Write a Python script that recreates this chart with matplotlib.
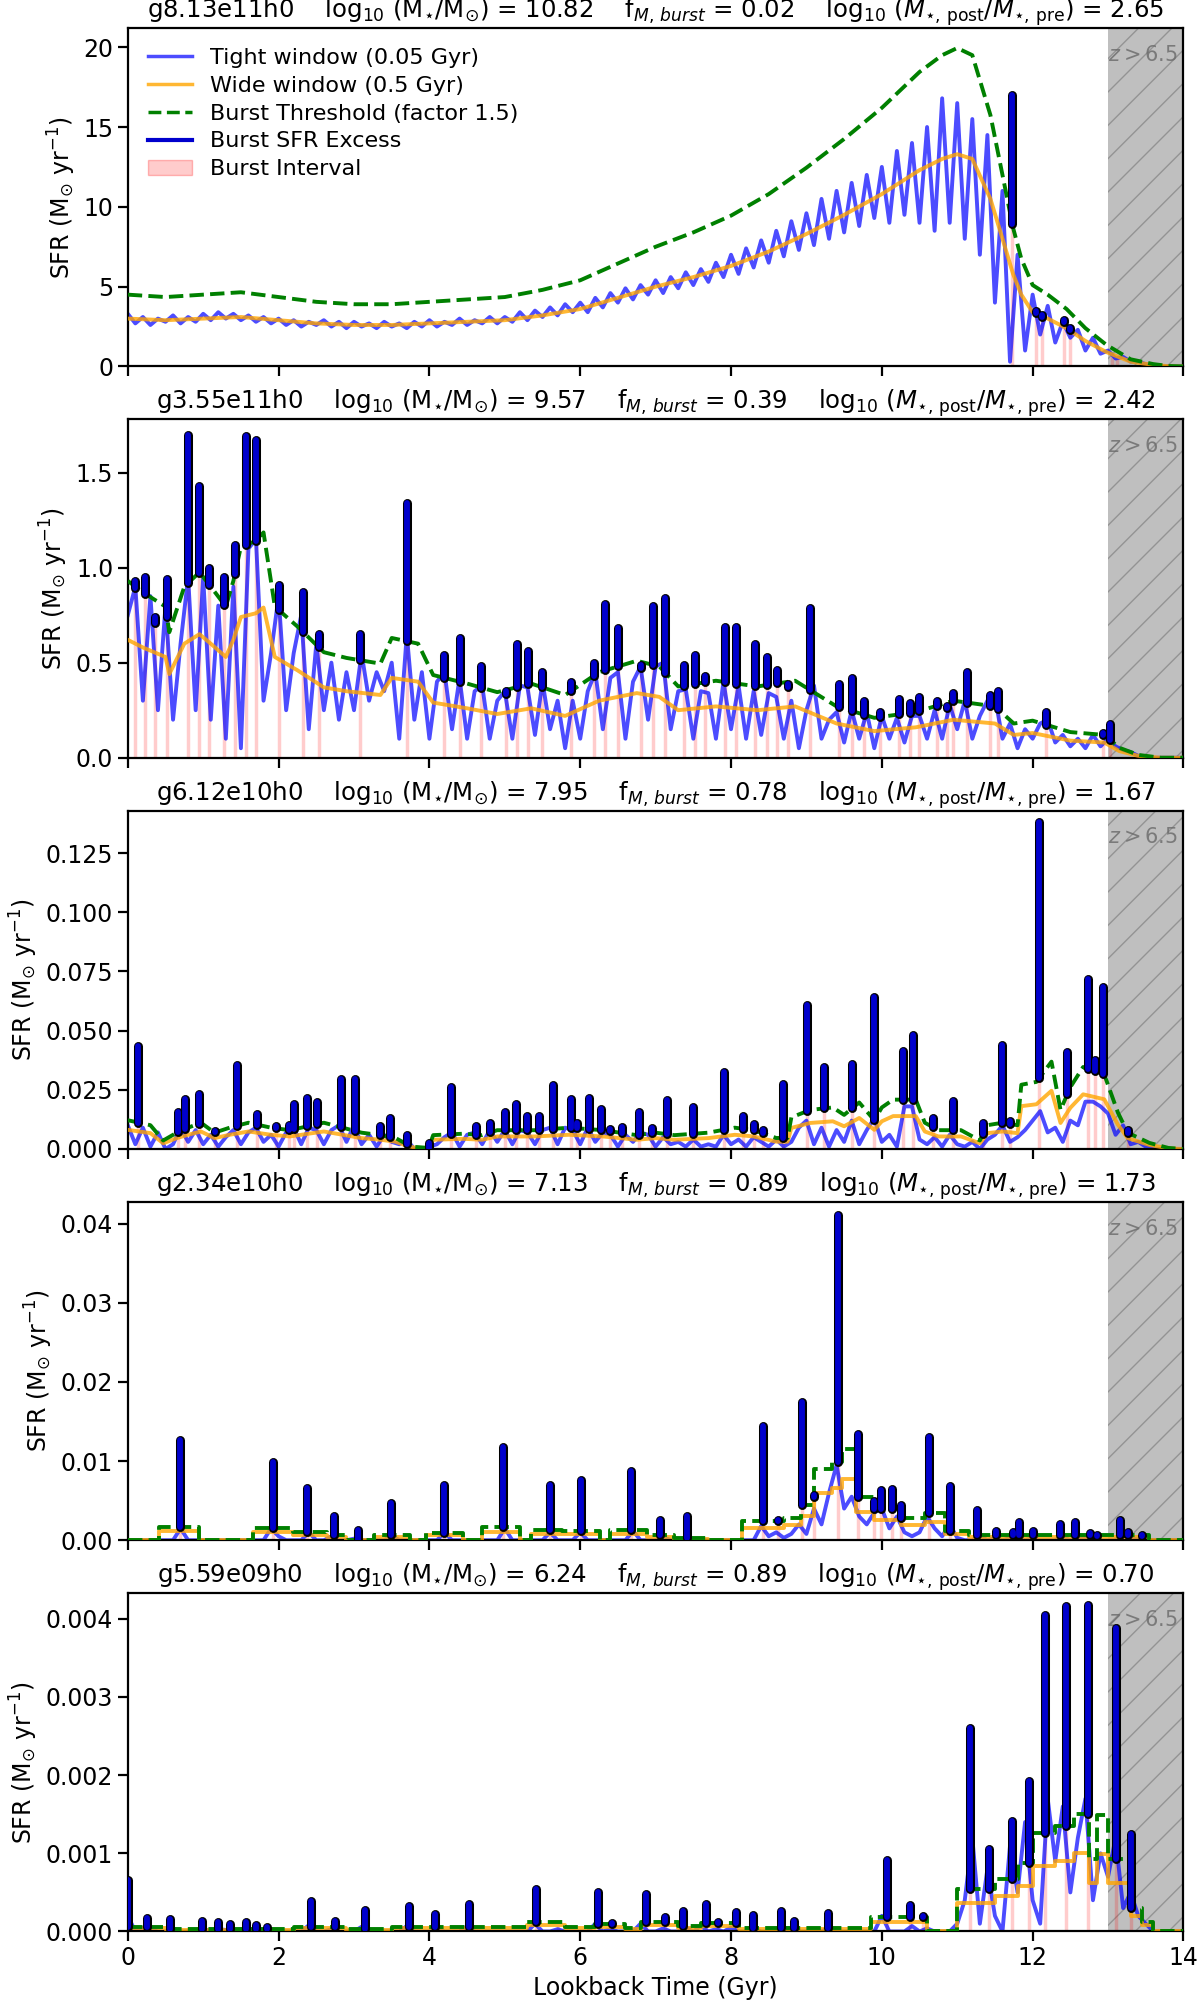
import numpy as np
import matplotlib
matplotlib.use('Agg')
import matplotlib.pyplot as plt
import matplotlib.patheffects as pe
from matplotlib.lines import Line2D
from matplotlib.patches import Patch

# ---------------------------------------------------------------- data
galaxies = ['g8.13e11h0', 'g3.55e11h0', 'g6.12e10h0', 'g2.34e10h0', 'g5.59e09h0']
log_mstar = [10.82, 9.57, 7.95, 7.13, 6.24]
f_burst = [0.02, 0.39, 0.78, 0.89, 0.89]
log_post_pre = [2.65, 2.42, 1.67, 1.73, 0.70]
ylims = [21.2, 1.78, 0.143, 0.04275, 0.00433]
ystep = [5, 0.5, 0.025, 0.01, 0.001]
threshold_factor = 1.5
z_cut = 13.0  # lookback time of z = 6.5

# time grid of the tight (0.05 Gyr) window curves
t_tight = np.round(np.arange(0, 14.01, 0.1), 2)

# --- panel 1
t1_wide = [0, 0.5, 1.0, 1.5, 2.0, 2.5, 3.0, 3.5, 4.0, 4.5, 5.0, 5.5, 6.0, 6.5, 7.0, 7.5, 8.0, 8.5,
           9.0, 9.5, 10.0, 10.5, 10.8, 11.0, 11.2, 11.44, 11.6, 11.74, 11.85, 12.0, 12.2, 12.45,
           12.7, 12.98, 13.3, 13.6, 13.8, 14.0]
sfr1_wide = [3.0, 2.9, 3.0, 3.1, 2.9, 2.7, 2.6, 2.6, 2.7, 2.8, 2.9, 3.2, 3.6, 4.3, 5.0, 5.6, 6.3, 7.2,
             8.3, 9.5, 10.8, 12.3, 13.0, 13.3, 13.0, 10.5, 8.0, 5.8, 4.5, 3.4, 3.0, 2.4,
             1.6, 0.9, 0.3, 0.1, 0.02, 0.0]
sfr1_tight = [3.3, 2.7, 3.1, 2.6, 3.0, 2.8, 3.2, 2.7, 3.1, 2.8,
              3.3, 2.9, 3.4, 3.0, 3.3, 2.9, 3.2, 2.8, 3.1, 2.7,
              3.0, 2.6, 2.9, 2.5, 2.8, 2.6, 2.9, 2.5, 2.8, 2.4,
              2.8, 2.5, 2.7, 2.4, 2.8, 2.5, 2.7, 2.4, 2.8, 2.5,
              2.9, 2.5, 2.8, 2.6, 3.0, 2.6, 2.9, 2.7, 3.1, 2.7,
              3.1, 2.8, 3.4, 2.9, 3.5, 3.1, 3.7, 3.2, 3.9, 3.4,
              4.0, 3.4, 4.3, 3.7, 4.6, 4.0, 4.9, 4.2, 5.1, 4.5,
              5.4, 4.6, 5.6, 4.9, 5.9, 5.1, 6.1, 5.3, 6.5, 5.6,
              7.0, 5.8, 7.4, 6.2, 7.9, 6.5, 8.5, 6.9, 9.1, 7.3,
              9.6, 7.6, 10.5, 8.0, 11.0, 8.4, 11.5, 8.8, 12.0, 9.3,
              12.5, 9.0, 13.5, 9.5, 14.0, 9.0, 15.0, 8.5, 16.8, 9.0,
              16.5, 8.0, 15.5, 7.0, 14.5, 4.0, 11.0, 0.3, 7.0, 1.0,
              4.5, 2.0, 3.8, 1.5, 2.8, 1.8, 2.3, 1.0, 1.8, 0.8,
              1.0, 0.5, 0.6, 0.3, 0.3, 0.15, 0.08, 0.03, 0.01, 0.0,
              0.0]
burst1_t = [11.73, 12.05, 12.12, 12.42, 12.5, 13.05, 13.12, 13.45]
burst1_peak = [17.0, 3.5, 3.2, 2.9, 2.4, 0.6, 0.5, 0.3]

# --- panel 2
t2_wide = [0, 0.2, 0.5, 0.55, 0.75, 0.95, 1.1, 1.3, 1.4, 1.5, 1.7, 1.8, 1.95, 2.25, 2.6, 2.9, 3.35,
           3.5, 3.85, 4.05, 4.5, 4.9, 5.35, 5.8, 6.25, 6.75, 7.05, 7.3, 7.8, 8.35, 8.85, 9.4, 9.9,
           10.45, 10.95, 11.5, 11.75, 12.0, 12.5, 12.95, 13.15, 13.4, 13.7, 14.0]
sfr2_wide = [0.62, 0.58, 0.53, 0.44, 0.60, 0.65, 0.60, 0.53, 0.62, 0.74, 0.76, 0.79, 0.53, 0.46,
             0.37, 0.35, 0.33, 0.42, 0.40, 0.29, 0.26, 0.23, 0.26, 0.22, 0.30, 0.34, 0.32, 0.25,
             0.27, 0.25, 0.27, 0.18, 0.14, 0.16, 0.20, 0.18, 0.12, 0.13, 0.09, 0.08, 0.035, 0.01,
             0.0, 0.0]
sfr2_tight = [0.75, 0.90, 0.30, 0.85, 0.25, 0.80, 0.20, 0.60, 0.95, 0.25,
              0.95, 0.20, 0.80, 0.10, 0.90, 0.05, 1.10, 1.15, 0.30, 0.55,
              0.85, 0.25, 0.55, 0.75, 0.15, 0.60, 0.25, 0.50, 0.20, 0.45,
              0.25, 0.55, 0.30, 0.45, 0.35, 0.50, 0.10, 0.65, 0.20, 0.45,
              0.10, 0.40, 0.45, 0.15, 0.42, 0.10, 0.35, 0.38, 0.10, 0.30,
              0.35, 0.10, 0.38, 0.37, 0.12, 0.40, 0.15, 0.30, 0.05, 0.30,
              0.10, 0.35, 0.45, 0.15, 0.42, 0.45, 0.10, 0.40, 0.48, 0.20,
              0.48, 0.50, 0.15, 0.35, 0.36, 0.10, 0.35, 0.34, 0.10, 0.40,
              0.15, 0.38, 0.10, 0.35, 0.12, 0.34, 0.32, 0.10, 0.30, 0.05,
              0.25, 0.38, 0.10, 0.20, 0.24, 0.08, 0.25, 0.10, 0.24, 0.05,
              0.22, 0.10, 0.21, 0.08, 0.22, 0.22, 0.10, 0.25, 0.10, 0.28,
              0.15, 0.30, 0.10, 0.22, 0.30, 0.32, 0.10, 0.18, 0.05, 0.15,
              0.10, 0.18, 0.20, 0.08, 0.12, 0.06, 0.10, 0.05, 0.12, 0.06,
              0.10, 0.06, 0.04, 0.03, 0.01, 0.005, 0.0, 0.0, 0.0, 0.0,
              0.0]
burst2_t = [0.1, 0.23, 0.36, 0.52, 0.8, 0.94, 1.08, 1.28, 1.42, 1.57, 1.7, 2.0, 2.32, 2.53, 3.08,
            3.7, 4.2, 4.4, 4.69, 5.02, 5.16, 5.31, 5.49, 5.88, 6.18, 6.33, 6.5, 6.8, 6.97, 7.13,
            7.37, 7.52, 7.66, 7.92, 8.07, 8.32, 8.48, 8.61, 8.76, 9.05, 9.43, 9.61, 9.76, 9.98,
            10.23, 10.38, 10.49, 10.73, 10.86, 10.95, 11.13, 11.43, 11.54, 12.18, 12.93, 13.03]
burst2_peak = [0.93, 0.95, 0.74, 0.94, 1.70, 1.43, 1.0, 0.95, 1.12, 1.69, 1.67, 0.91, 0.87, 0.65,
               0.65, 1.34, 0.54, 0.63, 0.48, 0.35, 0.60, 0.56, 0.45, 0.40, 0.50, 0.81, 0.68, 0.49,
               0.80, 0.84, 0.49, 0.54, 0.43, 0.69, 0.69, 0.60, 0.53, 0.46, 0.39, 0.79, 0.39, 0.42,
               0.30, 0.24, 0.31, 0.29, 0.32, 0.30, 0.27, 0.34, 0.45, 0.33, 0.35, 0.24, 0.13, 0.18]

# --- panel 3
t3_wide = [0, 0.3, 0.47, 0.65, 0.8, 0.97, 1.15, 1.35, 1.6, 1.9, 2.15, 2.45, 2.6, 2.85, 3.1, 3.35,
           3.55, 3.67, 3.8, 3.99, 4.05, 4.45, 4.7, 4.9, 5.4, 5.85, 6.3, 6.75, 7.0, 7.25, 7.7, 8.05,
           8.3, 8.6, 8.75, 8.8, 9.05, 9.35, 9.5, 9.7, 9.9, 10.0, 10.15, 10.45, 10.57, 10.75, 11.05,
           11.3, 11.4, 11.6, 11.8, 11.85, 12.05, 12.25, 12.37, 12.5, 12.67, 12.95, 13.13, 13.26,
           13.55, 13.8, 14.0]
sfr3_wide = [0.0081, 0.0067, 0.0024, 0.0046, 0.006, 0.0074, 0.0046, 0.006, 0.0074, 0.006, 0.0053,
             0.0067, 0.0074, 0.006, 0.0046, 0.0039, 0.0031, 0.0017, 0.0006, 0.0003, 0.0039, 0.0043,
             0.0039, 0.0053, 0.0053, 0.006, 0.0053, 0.0039, 0.0046, 0.0039, 0.0046, 0.006, 0.0053,
             0.0031, 0.0031, 0.0089, 0.011, 0.0117, 0.0096, 0.0131, 0.0081, 0.0117, 0.0139, 0.0139,
             0.0074, 0.0053, 0.0053, 0.0024, 0.0067, 0.0074, 0.0067, 0.0181, 0.0189, 0.0246, 0.011,
             0.0174, 0.0231, 0.021, 0.0103, 0.0046, 0.0017, 0.0003, 0.0]
sfr3_tight = [0.010, 0.002, 0.009, 0.001, 0.007, 0.000, 0.002, 0.009, 0.003, 0.008,
              0.002, 0.006, 0.001, 0.005, 0.008, 0.002, 0.007, 0.009, 0.003, 0.006,
              0.001, 0.007, 0.009, 0.002, 0.009, 0.008, 0.002, 0.008, 0.010, 0.003,
              0.010, 0.002, 0.006, 0.001, 0.006, 0.003, 0.002, 0.004, 0.000, 0.000,
              0.001, 0.002, 0.005, 0.007, 0.001, 0.006, 0.007, 0.002, 0.008, 0.003,
              0.008, 0.002, 0.008, 0.007, 0.002, 0.008, 0.009, 0.002, 0.009, 0.008,
              0.002, 0.009, 0.003, 0.007, 0.006, 0.001, 0.006, 0.003, 0.007, 0.006,
              0.001, 0.005, 0.002, 0.003, 0.001, 0.004, 0.001, 0.002, 0.001, 0.006,
              0.002, 0.004, 0.001, 0.005, 0.003, 0.001, 0.004, 0.001, 0.003, 0.009,
              0.012, 0.002, 0.009, 0.001, 0.008, 0.003, 0.012, 0.002, 0.008, 0.013,
              0.003, 0.006, 0.001, 0.018, 0.018, 0.004, 0.002, 0.005, 0.001, 0.006,
              0.002, 0.001, 0.003, 0.000, 0.004, 0.006, 0.010, 0.003, 0.005, 0.008,
              0.012, 0.016, 0.007, 0.009, 0.003, 0.012, 0.010, 0.020, 0.020, 0.018,
              0.015, 0.006, 0.010, 0.002, 0.003, 0.001, 0.000, 0.000, 0.000, 0.000,
              0.000]
burst3_t = [0.14, 0.67, 0.76, 0.94, 1.16, 1.45, 1.71, 1.96, 2.14, 2.2, 2.38, 2.51, 2.83, 3.01, 3.35,
            3.48, 3.7, 3.99, 4.28, 4.62, 4.81, 5.0, 5.15, 5.3, 5.45, 5.64, 5.88, 5.96, 6.11, 6.28,
            6.4, 6.56, 6.78, 6.95, 7.15, 7.49, 7.91, 8.16, 8.31, 8.42, 8.69, 9.01, 9.23, 9.61, 9.9,
            10.28, 10.41, 10.68, 10.95, 11.34, 11.59, 11.7, 12.09, 12.46, 12.73, 12.83, 12.93, 13.26]
burst3_peak = [0.0434, 0.0157, 0.021, 0.0234, 0.0074, 0.0353, 0.0146, 0.0096, 0.0103, 0.0189,
               0.0217, 0.0199, 0.0296, 0.0296, 0.0096, 0.0131, 0.006, 0.0024, 0.026, 0.0096,
               0.011, 0.0156, 0.0189, 0.0139, 0.0141, 0.0271, 0.0213, 0.011, 0.0217, 0.0167,
               0.0084, 0.0091, 0.0157, 0.0089, 0.0206, 0.0177, 0.0324, 0.0139, 0.0106, 0.0081,
               0.0274, 0.061, 0.0346, 0.036, 0.0643, 0.0414, 0.0481, 0.0129, 0.0203, 0.011,
               0.0439, 0.0117, 0.138, 0.041, 0.0717, 0.0374, 0.0686, 0.0081]

# --- panel 4 (wide window is step-like)
t4_wide = [0, 0.42, 0.95, 1.66, 2.19, 2.64, 2.9, 3.26, 3.74, 3.95, 4.45, 4.7, 5.2, 5.35, 5.76, 6.26,
           6.4, 6.88, 7.24, 7.7, 8.15, 8.7, 8.93, 9.1, 9.34, 9.47, 9.66, 9.89, 10.25, 10.57, 10.84,
           11.16, 13.54, 14.0]
sfr4_wide = [0, 0.00115, 0, 0.001, 0.0007, 0.0004, 0, 0.0004, 0, 0.0006, 0, 0.0011, 0, 0.00085,
             0.0008, 0, 0.00085, 0.0004, 0.0002, 0, 0.0016, 0.0019, 0.003, 0.006, 0.0066, 0.0077,
             0.0036, 0.0026, 0.0019, 0.0023, 0.0008, 0.0004, 0, 0]
sfr4_tight = [0, 0, 0, 0, 0, 0, 0, 0.0015, 0, 0,
              0, 0, 0, 0, 0, 0, 0, 0, 0, 0.0015,
              0.0005, 0, 0, 0, 0.001, 0, 0, 0.0005, 0, 0,
              0.0002, 0, 0, 0, 0, 0.0006, 0, 0, 0, 0,
              0, 0, 0.001, 0, 0, 0, 0, 0, 0, 0,
              0.0015, 0, 0, 0, 0, 0, 0.001, 0, 0, 0,
              0.001, 0, 0, 0, 0, 0, 0, 0.0012, 0, 0,
              0, 0.0004, 0, 0, 0.0003, 0, 0, 0, 0, 0,
              0, 0, 0, 0, 0.0018, 0.0005, 0.001, 0.0003, 0.0008, 0.002,
              0.0008, 0.004, 0.002, 0.006, 0.0095, 0.004, 0.0055, 0.003, 0.002, 0.0035,
              0.004, 0.0015, 0.003, 0.001, 0.0005, 0.001, 0.003, 0.0015, 0.0005, 0.002,
              0.0003, 0, 0, 0.0006, 0, 0.0003, 0, 0.0003, 0.0004, 0,
              0.0003, 0, 0, 0, 0.0004, 0, 0.0004, 0.0002, 0.0002, 0,
              0, 0, 0.0006, 0.0002, 0.0001, 0, 0, 0, 0, 0,
              0]
burst4_t = [0.69, 1.93, 2.38, 2.73, 3.05, 3.49, 4.19, 4.97, 5.6, 6.01, 6.67, 7.06, 7.42, 8.43,
            8.62, 8.94, 9.1, 9.42, 9.69, 9.89, 9.99, 10.13, 10.26, 10.63, 10.9, 11.26, 11.51,
            11.74, 11.82, 12.01, 12.36, 12.56, 12.76, 12.85, 13.16, 13.26, 13.45]
burst4_peak = [0.0126, 0.0099, 0.0066, 0.0031, 0.0013, 0.0047, 0.007, 0.0118, 0.007, 0.0076,
               0.0087, 0.0025, 0.0031, 0.0144, 0.0026, 0.0174, 0.0057, 0.0411, 0.0134, 0.0049,
               0.0063, 0.0065, 0.0044, 0.0131, 0.0069, 0.0038, 0.0012, 0.0011, 0.0023, 0.0012,
               0.0021, 0.0023, 0.0009, 0.0006, 0.0026, 0.001, 0.0006]

# --- panel 5 (wide window is step-like)
t5_wide = [0, 0.5, 2.2, 2.9, 3.5, 5.3, 5.8, 6.2, 6.6, 6.8, 7.3, 7.6, 8.1, 9.85, 10.6, 11.0, 11.5,
           11.8, 12.0, 12.3, 12.55, 12.75, 12.85, 13.0, 13.3, 13.45, 13.6, 14.0]
sfr5_wide = [0.00004, 0.00002, 0.00004, 0.00002, 0.00004, 0.00008, 0.00004, 0.00006, 0.00003,
             0.00008, 0.00005, 0.00007, 0.00003, 0.00012, 0.0, 0.00036, 0.00045, 0.00058, 0.00084,
             0.0009, 0.001, 0.00062, 0.00099, 0.00062, 0.0002, 0.00008, 0.0, 0.0]
sfr5_tight = [0.0002, 0, 0.00005, 0.00003, 0, 0, 0.00004, 0, 0, 0,
              0.00004, 0, 0.00003, 0.00002, 0, 0.00003, 0, 0.00002, 0, 0,
              0, 0, 0, 0, 0.00008, 0, 0, 0.00003, 0, 0,
              0, 0.00006, 0, 0, 0, 0, 0, 0.00007, 0, 0,
              0, 0.00005, 0, 0, 0, 0.00007, 0, 0, 0, 0,
              0, 0, 0, 0, 0.0001, 0, 0, 0.00003, 0, 0,
              0, 0, 0.0001, 0, 0.00003, 0, 0, 0, 0.0001, 0,
              0, 0.00004, 0, 0, 0.00005, 0, 0.00007, 0, 0.00003, 0,
              0.00005, 0, 0, 0.00004, 0, 0, 0, 0.00005, 0.00003, 0,
              0, 0, 0, 0.00005, 0, 0, 0, 0, 0, 0,
              0.0002, 0, 0, 0, 0.00007, 0, 0.00004, 0, 0, 0,
              0.0001, 0.0004, 0.0012, 0.0001, 0.0008, 0.0002, 0, 0.0011, 0.0005, 0.0014,
              0.0004, 0.0001, 0.0017, 0.0009, 0.0016, 0.0005, 0.0012, 0.0017, 0.0004, 0.001,
              0.0007, 0.0012, 0.0003, 0.0005, 0.0002, 0.0001, 0, 0, 0, 0,
              0]
burst5_t = [0.0, 0.26, 0.56, 0.99, 1.2, 1.35, 1.57, 1.7, 1.84, 2.43, 2.75, 3.15, 3.73, 4.07, 4.52,
            5.42, 5.7, 6.23, 6.42, 6.87, 7.12, 7.36, 7.67, 7.83, 8.06, 8.29, 8.66, 8.84, 9.28,
            10.07, 10.37, 10.55, 11.17, 11.42, 11.73, 11.95, 12.17, 12.44, 12.73, 13.1, 13.31]
burst5_peak = [0.00066, 0.00017, 0.00016, 0.00014, 0.00012, 0.0001, 0.00012, 0.00008, 0.00006,
               0.00039, 0.00013, 0.00027, 0.00033, 0.00022, 0.00035, 0.00055, 0.00007, 0.0005,
               0.00011, 0.00048, 0.00019, 0.00026, 0.00035, 0.00012, 0.00025, 0.00021, 0.00026,
               0.00013, 0.00024, 0.00091, 0.00034, 0.0002, 0.0026, 0.00106, 0.00141, 0.00192,
               0.00405, 0.00417, 0.00418, 0.00388, 0.00125]

panels = [
    (t1_wide, sfr1_wide, sfr1_tight, burst1_t, burst1_peak, False),
    (t2_wide, sfr2_wide, sfr2_tight, burst2_t, burst2_peak, False),
    (t3_wide, sfr3_wide, sfr3_tight, burst3_t, burst3_peak, False),
    (t4_wide, sfr4_wide, sfr4_tight, burst4_t, burst4_peak, True),
    (t5_wide, sfr5_wide, sfr5_tight, burst5_t, burst5_peak, True),
]

# ---------------------------------------------------------------- figure
FS = 17
plt.rcParams.update({
    'font.size': FS,
    'axes.linewidth': 1.6,
    'xtick.major.width': 1.6, 'ytick.major.width': 1.6,
    'xtick.major.size': 7, 'ytick.major.size': 7,
    'hatch.linewidth': 1.0,
})

fig, axes = plt.subplots(5, 1, figsize=(12, 20.03), dpi=100, sharex=True)
fig.subplots_adjust(left=0.1065, right=0.9862, top=0.986, bottom=0.0357, hspace=0.156)

outline = [pe.Stroke(linewidth=6.5, foreground='black'), pe.Normal()]

for i, ax in enumerate(axes):
    tw, sw, st, bt, bp, stepped = panels[i]
    tw = np.asarray(tw)
    sw = np.asarray(sw)
    thr = threshold_factor * sw
    ds = 'steps-post' if stepped else 'default'

    # base of each burst = threshold at burst time
    if stepped:
        idx = np.clip(np.searchsorted(tw, bt, side='right') - 1, 0, len(tw) - 1)
        base = thr[idx]
    else:
        base = np.interp(bt, tw, thr)
    bp = np.asarray(bp)
    base = np.minimum(base, bp * 0.96)

    # burst intervals
    ax.vlines(bt, 0, base, color='red', alpha=0.2, lw=2.5, zorder=1)

    ax.plot(t_tight, st, color='blue', alpha=0.7, lw=2.8, zorder=2)
    ax.plot(tw, sw, color='orange', alpha=0.8, lw=2.8, drawstyle=ds, zorder=3)
    ax.plot(tw, thr, color='green', ls='--', lw=2.8, drawstyle=ds, zorder=4)

    # burst SFR excess
    xs = np.column_stack([bt, bt, np.full(len(bt), np.nan)]).ravel()
    ys = np.column_stack([base, bp, np.full(len(bt), np.nan)]).ravel()
    ax.plot(xs, ys, color='mediumblue', lw=4.2, solid_capstyle='round',
            solid_joinstyle='round', path_effects=outline, zorder=5)

    # z > 6.5 region
    ax.axvspan(z_cut, 14, facecolor='gray', edgecolor='dimgray', alpha=0.5, hatch='/',
               lw=0, zorder=0.5)
    ax.text(0.995, 0.95, r'$z > 6.5$', transform=ax.transAxes, ha='right', va='top',
            fontsize=15, color='dimgray', alpha=0.8)

    ax.set_xlim(0, 14)
    ax.set_ylim(0, ylims[i])
    ax.yaxis.set_major_locator(plt.MultipleLocator(ystep[i]))
    ax.set_ylabel(r'SFR (M$_{\odot}$ yr$^{-1}$)')

    title = (f'{galaxies[i]}    ' + r'$\log_{10}\,(\mathrm{M}_{\star}/\mathrm{M}_{\odot})$'
             + f' = {log_mstar[i]:.2f}    ' + r'$\mathrm{f}_{M,\,burst}$' + f' = {f_burst[i]:.2f}    '
             + r'$\log_{10}\,(M_{\star,\,\mathrm{post}}/M_{\star,\,\mathrm{pre}})$'
             + f' = {log_post_pre[i]:.2f}')
    ax.set_title(title, fontsize=17.6, pad=4)

axes[-1].set_xticks([0, 2, 4, 6, 8, 10, 12, 14])
axes[-1].set_xlabel('Lookback Time (Gyr)')

handles = [
    Line2D([], [], color='blue', alpha=0.7, lw=2.5, label='Tight window (0.05 Gyr)'),
    Line2D([], [], color='orange', alpha=0.8, lw=2.5, label='Wide window (0.5 Gyr)'),
    Line2D([], [], color='green', ls='--', lw=2.5, label='Burst Threshold (factor 1.5)'),
    Line2D([], [], color='mediumblue', lw=3, label='Burst SFR Excess'),
    Patch(facecolor=(1, 0, 0, 0.2), edgecolor=(1, 0, 0, 0.25), label='Burst Interval'),
]
axes[0].legend(handles=handles, loc='upper left', frameon=False, fontsize=FS - 1,
               handlelength=2.0, labelspacing=0.35)

fig.savefig('out.png', dpi=100, facecolor='white')
